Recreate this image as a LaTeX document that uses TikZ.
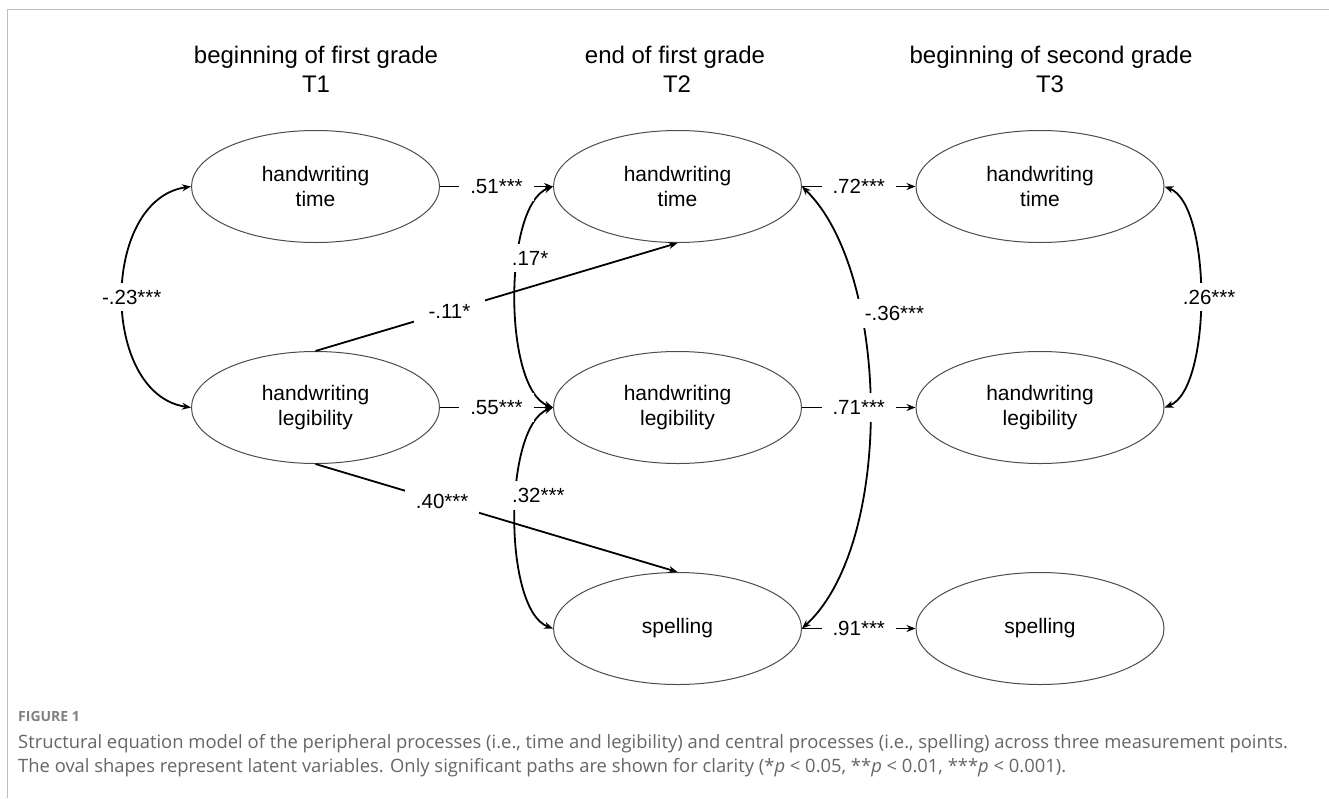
\documentclass[tikz,border=0pt]{standalone}
\usepackage{fontspec}
\setmainfont{Liberation Sans}
\newfontfamily\capfont{Open Sans}
\usetikzlibrary{shapes.geometric,arrows.meta}
\definecolor{capgray}{HTML}{666666}
\definecolor{framegray}{HTML}{BDBDBD}
\begin{document}
\begin{tikzpicture}[x=1pt,y=-1pt,
  lat/.style={ellipse,draw=black!70,line width=1pt,minimum width=248pt,minimum height=112pt,inner sep=0pt,align=center,font=\fontsize{21}{24.5}\selectfont},
  reg/.style={line width=1.8pt,-{Stealth[length=9pt,width=7pt]}},
  cov/.style={line width=1.8pt,{Stealth[length=9pt,width=7pt]}-{Stealth[length=9pt,width=7pt]}},
  lbl/.style={fill=white,inner xsep=11pt,inner ysep=7pt,font=\fontsize{20.5}{24}\selectfont},
  hdr/.style={font=\fontsize{24}{29}\selectfont,anchor=base,inner sep=0pt},
  captxt/.style={anchor=base west,inner sep=0pt,text=capgray,font=\capfont\fontsize{18.4}{20}\selectfont}]
\useasboundingbox (0,0) rectangle (1329,798);
\draw[framegray,line width=1pt] (1329,9) -- (7,9) -- (7,798);
% headers
\node[hdr] (h1a) at (316,63) {beginning of first grade};
\node[hdr] (h1b) at (316,92) {T1};
\node[hdr] (h2a) at (675,63) {end of first grade};
\node[hdr] (h2b) at (677,92) {T2};
\node[hdr] (h3a) at (1051,63) {beginning of second grade};
\node[hdr] (h3b) at (1050,92) {T3};
% latent variables
\node[lat] (t1t) at (315.5,186.5) {handwriting\\time};
\node[lat] (t1l) at (315.5,407.5) {handwriting\\legibility};
\node[lat] (t2t) at (677.5,186.5) {handwriting\\time};
\node[lat] (t2l) at (677.5,407.5) {handwriting\\legibility};
\node[lat] (t2s) at (677.5,628.5) {spelling};
\node[lat] (t3t) at (1040,186.5) {handwriting\\time};
\node[lat] (t3l) at (1040,407.5) {handwriting\\legibility};
\node[lat] (t3s) at (1040,628.5) {spelling};
% covariances
\draw[cov] (t1t.west) .. controls (100,200) and (100,394) .. node[lbl,pos=0.5,xshift=9pt] {-.23***} (t1l.west);
\draw[cov] (t3t.east) .. controls (1212,205) and (1212,389) .. node[lbl,pos=0.5,xshift=9pt] {.26***} (t3l.east);
\draw[cov] (t2t.west) .. controls (503,205) and (503,389) .. node[lbl,pos=0.37,xshift=12pt] {.17*} (t2l.west);
\draw[cov] (t2l.west) .. controls (503,426) and (503,610) .. node[lbl,pos=0.425,xshift=22pt] {.32***} (t2s.west);
\draw[cov] (t2t.east) .. controls (890,272) and (895,543) .. node[lbl,pos=0.32,xshift=34pt] {-.36***} (t2s.east);
% regressions
\draw[reg] (t1l.north) -- node[lbl,pos=0.37,inner xsep=15pt] {-.11*} (t2t.south);
\draw[reg] (t1l.south) -- node[lbl,pos=0.35] {.40***} (t2s.north);
\draw[reg] (t1t.east) -- node[lbl] {.51***} (t2t.west);
\draw[reg] (t1l.east) -- node[lbl] {.55***} (t2l.west);
\draw[reg] (t2t.east) -- node[lbl] {.72***} (t3t.west);
\draw[reg] (t2l.east) -- node[lbl] {.71***} (t3l.west);
\draw[reg] (t2s.east) -- node[lbl] {.91***} (t3s.west);
% caption
\node[captxt,font=\capfont\bfseries\fontsize{14}{16}\selectfont,text=black!50] (fig) at (18,721) {FIGURE 1};
\node[captxt] (c1) at (18,748) {Structural equation model of the peripheral processes (i.e., time and legibility) and central processes (i.e., spelling) across three measurement points.};
\node[captxt] (c2) at (18,772) {The oval shapes represent latent variables. Only significant paths are shown for clarity (*{\itshape p} < 0.05, **{\itshape p} < 0.01, ***{\itshape p} < 0.001).};
\end{tikzpicture}
\end{document}
